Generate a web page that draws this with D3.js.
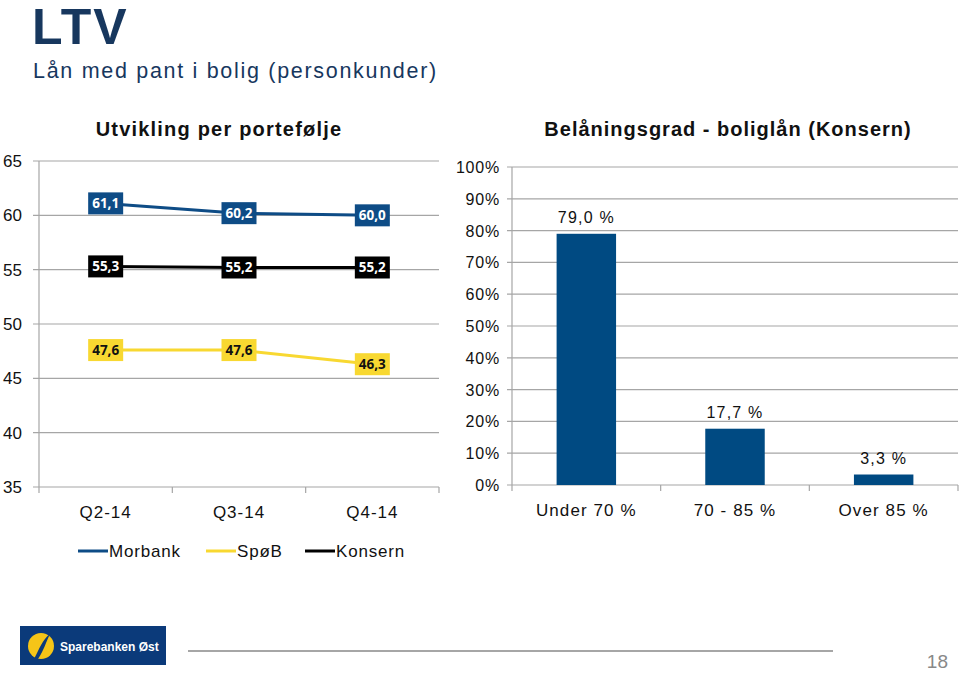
<!DOCTYPE html>
<html>
<head>
<meta charset="utf-8">
<title>LTV</title>
<script src="https://cdn.jsdelivr.net/npm/d3@7"></script>
<style>
  body { margin: 0; background: #fff; }
  svg text { font-family: "Liberation Sans", Arial, sans-serif; }
  .lbl { font-family: "Open Sans", "Liberation Sans", sans-serif; font-weight: bold; }
</style>
</head>
<body>
<svg id="slide" width="960" height="673"></svg>
<script>
// data
const quarters = ["Q2-14", "Q3-14", "Q4-14"];
const seriesNames = ["Morbank", "SpøB", "Konsern"];
const morbank = [61.1, 60.2, 60.0];
const spob = [47.6, 47.6, 46.3];
const konsern = [55.3, 55.2, 55.2];
const leftTicks = [35, 40, 45, 50, 55, 60, 65];

const ltvGroups = ["Under 70 %", "70 - 85 %", "Over 85 %"];
const ltvShares = [0.790, 0.177, 0.033];
const ltvLabels = ["79,0 %", "17,7 %", "3,3 %"];
const pctTicks = [0, 0.1, 0.2, 0.3, 0.4, 0.5, 0.6, 0.7, 0.8, 0.9, 1.0];

const navy = "#17375e";
const blue = "#0e4c86";
const yellow = "#f8d831";
const grid = "#a6a6a6";

const svg = d3.select("#slide");

// header
svg.append("text").attr("x", 32).attr("y", 44)
  .attr("font-size", 50).attr("font-weight", "bold").attr("fill", navy)
  .attr("letter-spacing", 2)
  .text("LTV");
svg.append("text").attr("x", 33).attr("y", 78)
  .attr("font-size", 21.5).attr("fill", navy).attr("letter-spacing", 1.7)
  .text("Lån med pant i bolig (personkunder)");

// ---- left: line chart
const x1 = d3.scaleBand().domain(quarters).range([39, 439]);
const y1 = d3.scaleLinear().domain([35, 65]).range([487, 161]);

svg.append("text").attr("x", 219).attr("y", 136).attr("text-anchor", "middle")
  .attr("font-size", 20).attr("font-weight", "bold").attr("fill", "#111")
  .attr("letter-spacing", 1.2)
  .text("Utvikling per portefølje");

const gL = svg.append("g");
gL.selectAll("line.grid").data(leftTicks).join("line")
  .attr("x1", 33).attr("x2", 439)
  .attr("y1", d => y1(d)).attr("y2", d => y1(d))
  .attr("stroke", grid).attr("stroke-width", 1.2);
gL.append("line").attr("x1", 39).attr("x2", 39).attr("y1", 161).attr("y2", 487)
  .attr("stroke", grid).attr("stroke-width", 1.2);
gL.selectAll("line.tick").data([39, ...quarters.map(q => x1(q) + x1.bandwidth())]).join("line")
  .attr("x1", d => d).attr("x2", d => d).attr("y1", 487).attr("y2", 493)
  .attr("stroke", grid).attr("stroke-width", 1.2);
gL.selectAll("text.yl").data(leftTicks).join("text")
  .attr("x", 22).attr("y", d => y1(d) + 6).attr("text-anchor", "end")
  .attr("font-size", 17).attr("fill", "#111").text(d => d);
gL.selectAll("text.xl").data(quarters).join("text")
  .attr("x", d => x1(d) + x1.bandwidth() / 2).attr("y", 518).attr("text-anchor", "middle")
  .attr("font-size", 17).attr("fill", "#111").attr("letter-spacing", 1).text(d => d);

const series = [
  { name: seriesNames[0], vals: morbank, color: blue, text: "#fff" },
  { name: seriesNames[1], vals: spob, color: yellow, text: "#111" },
  { name: seriesNames[2], vals: konsern, color: "#000", text: "#fff" }
];
const line = d3.line()
  .x((d, i) => x1(quarters[i]) + x1.bandwidth() / 2)
  .y(d => y1(d));
series.forEach(s => {
  gL.append("path").attr("d", line(s.vals)).attr("fill", "none")
    .attr("stroke", s.color).attr("stroke-width", 3);
  const lb = gL.selectAll(null).data(s.vals).join("g")
    .attr("transform", (d, i) => `translate(${x1(quarters[i]) + x1.bandwidth() / 2},${y1(d)})`);
  lb.append("rect").attr("x", -17.5).attr("y", -11).attr("width", 35).attr("height", 22)
    .attr("fill", s.color);
  lb.append("text").attr("class", "lbl").attr("y", 5).attr("text-anchor", "middle")
    .attr("font-size", 13.5).attr("fill", s.text)
    .text(d => d.toFixed(1).replace(".", ","));
});

// legend
const legX = [78, 206, 305];
const leg = svg.append("g").selectAll("g").data(series).join("g")
  .attr("transform", (d, i) => `translate(${legX[i]},551)`);
leg.append("line").attr("x1", 0).attr("x2", 30).attr("stroke", d => d.color).attr("stroke-width", 3);
leg.append("text").attr("x", 31).attr("y", 6).attr("font-size", 17).attr("fill", "#111")
  .attr("letter-spacing", 0.8).text(d => d.name);

// ---- right: bar chart
const x2 = d3.scaleBand().domain(ltvGroups).range([512, 958]).paddingInner(0.6).paddingOuter(0.3);
const y2 = d3.scaleLinear().domain([0, 1]).range([485, 167]);

svg.append("text").attr("x", 728).attr("y", 136).attr("text-anchor", "middle")
  .attr("font-size", 20).attr("font-weight", "bold").attr("fill", "#111")
  .attr("letter-spacing", 1)
  .text("Belåningsgrad - boliglån (Konsern)");

const gR = svg.append("g");
gR.selectAll("line.grid").data(pctTicks).join("line")
  .attr("x1", 507).attr("x2", 958)
  .attr("y1", d => y2(d)).attr("y2", d => y2(d))
  .attr("stroke", grid).attr("stroke-width", 1.2);
gR.append("line").attr("x1", 512).attr("x2", 512).attr("y1", 167).attr("y2", 485)
  .attr("stroke", grid).attr("stroke-width", 1.2);
const step = x2.step();
gR.selectAll("line.tick").data([0, 1, 2, 3]).join("line")
  .attr("x1", d => 512 + d * step).attr("x2", d => 512 + d * step)
  .attr("y1", 485).attr("y2", 491)
  .attr("stroke", grid).attr("stroke-width", 1.2);
gR.selectAll("text.yl").data(pctTicks).join("text")
  .attr("x", 500).attr("y", d => y2(d) + 6).attr("text-anchor", "end")
  .attr("font-size", 16).attr("fill", "#111").attr("letter-spacing", 0.8)
  .text(d => Math.round(d * 100) + "%");

gR.selectAll("rect.bar").data(ltvShares).join("rect")
  .attr("x", (d, i) => x2(ltvGroups[i])).attr("width", x2.bandwidth())
  .attr("y", d => y2(d)).attr("height", d => y2(0) - y2(d))
  .attr("fill", "#004a82");
gR.selectAll("text.vl").data(ltvShares).join("text")
  .attr("x", (d, i) => x2(ltvGroups[i]) + x2.bandwidth() / 2)
  .attr("y", d => y2(d) - 11).attr("text-anchor", "middle")
  .attr("font-size", 16).attr("fill", "#111").attr("letter-spacing", 1.2)
  .text((d, i) => ltvLabels[i]);
gR.selectAll("text.xl").data(ltvGroups).join("text")
  .attr("x", d => x2(d) + x2.bandwidth() / 2).attr("y", 516).attr("text-anchor", "middle")
  .attr("font-size", 17).attr("fill", "#111").attr("letter-spacing", 1.1).text(d => d);

// footer
const logo = svg.append("g").attr("transform", "translate(20,626)");
logo.append("rect").attr("width", 146).attr("height", 39).attr("fill", "#0b3a7a");
logo.append("circle").attr("cx", 21).attr("cy", 20).attr("r", 13).attr("fill", "#f5c518");
logo.append("path").attr("d", "M14,33 C20,22 22,14 30,8 C26,16 24,24 18,33 Z").attr("fill", "#0b3a7a");
logo.append("text").attr("x", 40).attr("y", 25).attr("font-size", 12).attr("font-weight", "bold")
  .attr("fill", "#fff").attr("font-family", "Open Sans, sans-serif").text("Sparebanken Øst");
svg.append("line").attr("x1", 188).attr("x2", 833).attr("y1", 651).attr("y2", 651)
  .attr("stroke", "#a6a6a6").attr("stroke-width", 2);
svg.append("text").attr("x", 948).attr("y", 668).attr("text-anchor", "end")
  .attr("font-size", 19).attr("fill", "#888").attr("font-family", "Open Sans, sans-serif")
  .text("18");
</script>
</body>
</html>
